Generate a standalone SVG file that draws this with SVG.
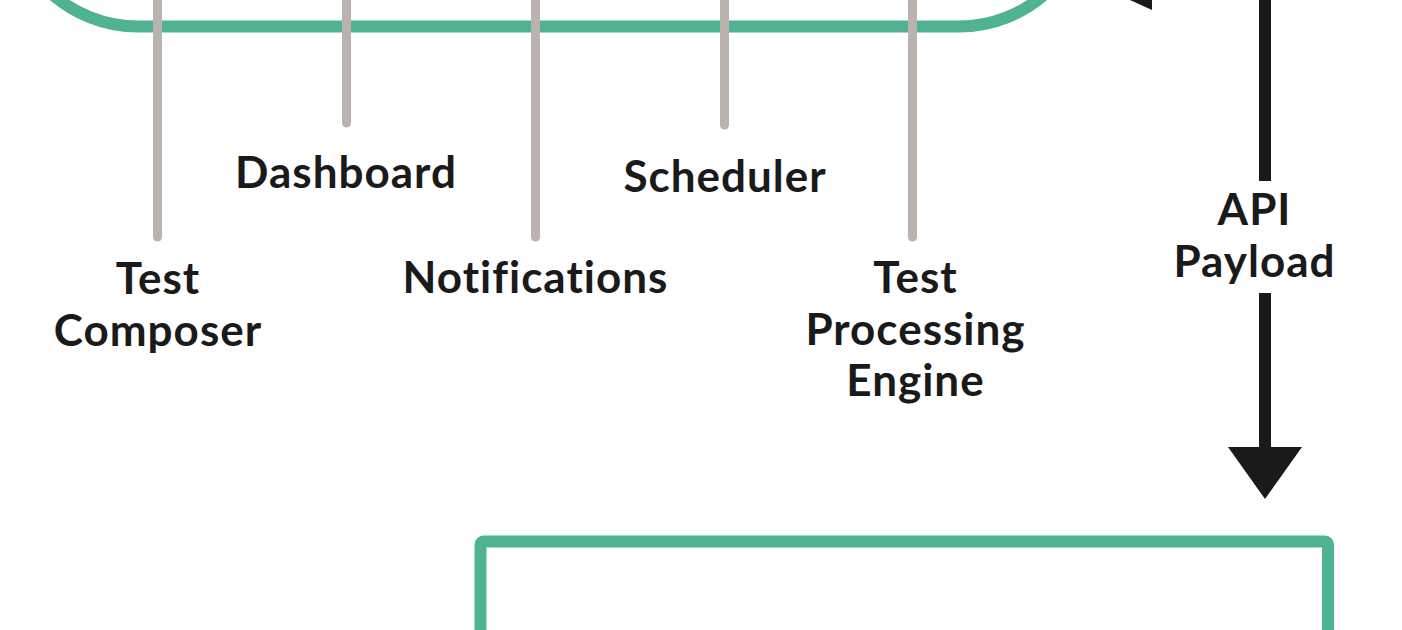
<svg xmlns="http://www.w3.org/2000/svg" width="1402" height="630" viewBox="0 0 1402 630">
<style>
.box{fill:none;stroke:#4fb292;stroke-width:12}
.tick{stroke:#bab2ae;stroke-width:9;stroke-linecap:round;fill:none}
.flow{stroke:#1a1a1a;stroke-width:12;fill:none}
.head{fill:#1a1a1a}
.lbl{font-family:Lato,"Liberation Sans",sans-serif;font-weight:700;font-size:44px;letter-spacing:1px;fill:#1a1a1a;text-anchor:middle}
</style>
<rect width="1402" height="630" fill="#ffffff"/>
<g id="platform">
<path class="box" d="M 8 -150 V -103.5 A 130 130 0 0 0 138 26.5 H 959 A 130 130 0 0 0 1089 -103.5 V -150"/>
</g>
<g id="connectors">
<line class="tick" x1="157.5" y1="-10" x2="157.5" y2="237"/>
<line class="tick" x1="346.5" y1="-10" x2="346.5" y2="123"/>
<line class="tick" x1="535.5" y1="-10" x2="535.5" y2="237"/>
<line class="tick" x1="724.5" y1="-10" x2="724.5" y2="125"/>
<line class="tick" x1="912.5" y1="-10" x2="912.5" y2="237"/>
<line class="flow" x1="1152" y1="-15" x2="1300" y2="-15"/>
<polygon class="head" points="1152,-40 1152,10 1097,-15"/>
<line class="flow" x1="1265" y1="-10" x2="1265" y2="181"/>
<line class="flow" x1="1265" y1="293" x2="1265" y2="450"/>
<polygon class="head" points="1228,447 1302,447 1265,499"/>
</g>
<g id="label-test-composer"><text class="lbl"><tspan x="158" y="294">Test</tspan><tspan x="158" y="346">Composer</tspan></text></g>
<g id="label-dashboard"><text class="lbl" x="346" y="188">Dashboard</text></g>
<g id="label-notifications"><text class="lbl" x="535.5" y="293">Notifications</text></g>
<g id="label-scheduler"><text class="lbl" x="725" y="192">Scheduler</text></g>
<g id="label-test-processing-engine"><text class="lbl"><tspan x="915.5" y="293">Test</tspan><tspan x="915.5" y="344.5">Processing</tspan><tspan x="915.5" y="396">Engine</tspan></text></g>
<g id="label-api-payload"><text class="lbl"><tspan x="1254.5" y="225">API</tspan><tspan x="1254.5" y="277">Payload</tspan></text></g>
<g id="backend">
<rect class="box" x="480.5" y="541.5" width="847.5" height="200" rx="3" ry="3"/>
</g>
</svg>
